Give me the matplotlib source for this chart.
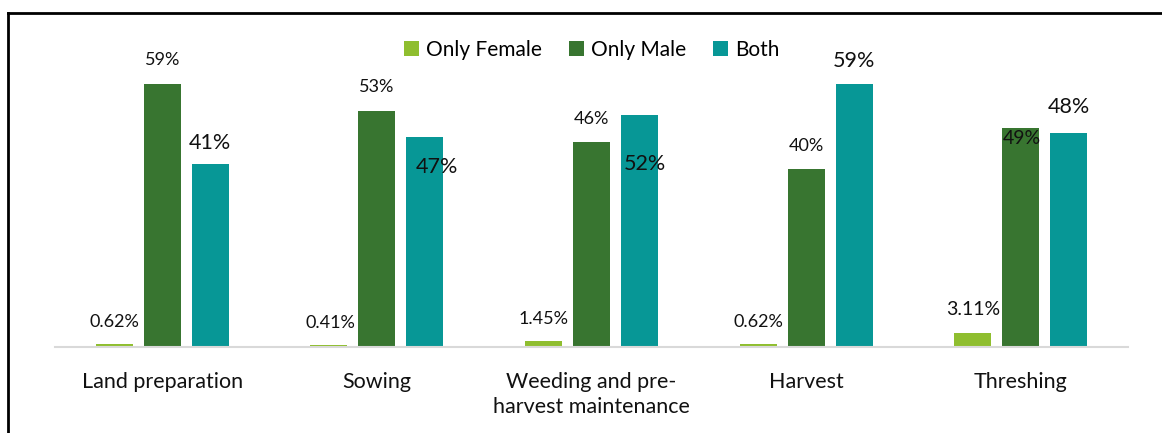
import numpy as np
import matplotlib
matplotlib.use("Agg")
import matplotlib.pyplot as plt
from matplotlib.patches import Patch
from matplotlib.lines import Line2D

plt.rcParams['font.family'] = ['Lato', 'DejaVu Sans']

categories = ["Land preparation", "Sowing", "Weeding and pre-\nharvest maintenance", "Harvest", "Threshing"]
series_names = ["Only Female", "Only Male", "Both"]
only_female = [0.62, 0.41, 1.45, 0.62, 3.11]
only_male = [59, 53, 46, 40, 49]
both = [41, 47, 52, 59, 48]
female_labels = ["0.62%", "0.41%", "1.45%", "0.62%", "3.11%"]
male_labels = ["59%", "53%", "46%", "40%", "49%"]
both_labels = ["41%", "47%", "52%", "59%", "48%"]

colors = ["#8fbe2f", "#387530", "#079796"]

# label nudges in pixels (dx, dy) and font sizes, as the source chart had them
female_off = [(0, 22), (2, 22), (0, 22), (0, 22), (0, 24)]
male_off = [(0, 24), (0, 24), (0, 23), (0, 23), (1, -10)]
both_off = [(0, 21), (12, -30), (5, -49), (0, 23), (0, 26)]
female_fs = [13, 13, 13, 13, 14]
male_fs = [13, 13, 13, 13, 14]
both_fs = [15.5, 15.5, 15.5, 15.5, 15.5]

fig = plt.figure(figsize=(11.62, 4.33), dpi=100)
ax = fig.add_axes([55 / 1162, 1 - 347 / 433, 1073 / 1162, 334 / 433])

x = np.arange(len(categories))
step = 0.2237
w = 0.172
groups = [
    (only_female, female_labels, female_off, female_fs, -step),
    (only_male, male_labels, male_off, male_fs, 0),
    (both, both_labels, both_off, both_fs, step),
]
for (vals, labs, offs, fss, shift), col in zip(groups, colors):
    ax.bar(x + shift, vals, width=w, color=col, linewidth=0)
    for xi, v, lab, (dx, dy), fs in zip(x, vals, labs, offs, fss):
        ax.annotate(lab, (xi + shift, v), xytext=(dx, dy), textcoords="offset pixels",
                    ha="center", va="center", fontsize=fs, color="#111111")

ax.set_xlim(-0.5, 4.5)
ax.set_ylim(0, 334 / 4.46)
ax.set_yticks([])
ax.set_xticks(x)
ax.set_xticklabels(categories, fontsize=15.5, color="#111111", linespacing=1.3)
ax.tick_params(axis="x", length=0, pad=18)
for s in ["top", "right", "left"]:
    ax.spines[s].set_visible(False)
ax.spines["bottom"].set_color("#d9d9d9")
ax.spines["bottom"].set_linewidth(1.5)

handles = [Patch(facecolor=c, edgecolor="none") for c in colors]
fig.legend(handles, series_names, loc="center", bbox_to_anchor=(592 / 1162, 1 - 50 / 433),
           ncol=3, frameon=False, fontsize=15, handlelength=0.7, handleheight=0.7,
           handletextpad=0.35, columnspacing=1.3)

# outer frame: top and left edges only
fig.add_artist(Line2D([8 / 1162, 1], [1 - 13 / 433, 1 - 13 / 433], color="black", lw=2))
fig.add_artist(Line2D([8 / 1162, 8 / 1162], [0, 1 - 13 / 433], color="black", lw=2))

fig.savefig("out.png", dpi=100)
